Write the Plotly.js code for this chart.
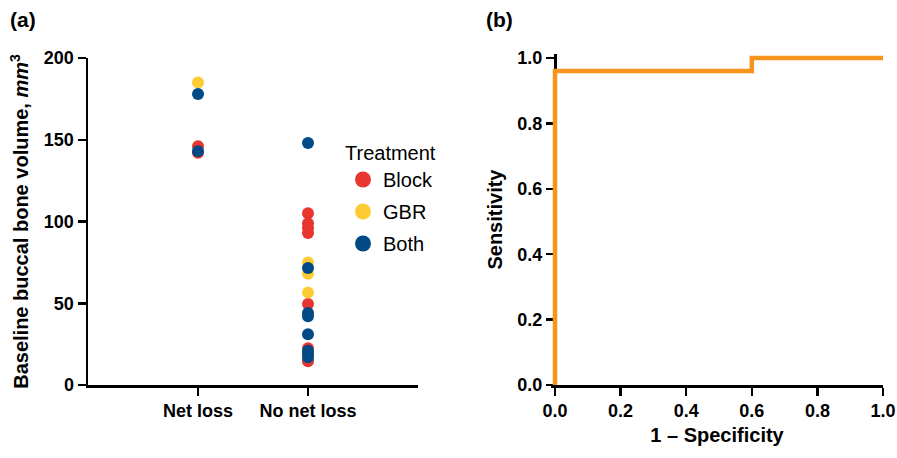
<!DOCTYPE html>
<html><head><meta charset="utf-8">
<script src="https://cdn.plot.ly/plotly-3.0.1.min.js"></script>
<style>body{margin:0;padding:0;background:#fff}#chart{width:897px;height:458px}</style>
</head><body><div id="chart"></div>
<script>
// Panel (a) data
const categories = ["Net loss", "No net loss"];
const blockX = ["Net loss","Net loss","No net loss","No net loss","No net loss","No net loss","No net loss","No net loss","No net loss"];
const blockY = [146, 142, 105, 99, 96, 93, 49.5, 22.5, 14.5];
const gbrX = ["Net loss","No net loss","No net loss","No net loss"];
const gbrY = [185, 75, 68, 56.5];
const bothX = ["Net loss","Net loss","No net loss","No net loss","No net loss","No net loss","No net loss","No net loss","No net loss","No net loss"];
const bothY = [178, 143, 148, 71.5, 44, 42, 31, 21, 19, 17];
const seriesNames = ["Block", "GBR", "Both"];
const colors = ["#E8352F", "#FDCB33", "#014A86"];

// Panel (b) ROC data
const fpr = [0, 0, 0.6, 0.6, 1.0];
const tpr = [0, 0.96, 0.96, 1.0, 1.0];

const yTicksA = [0, 50, 100, 150, 200];
const ticksB = [0, 0.2, 0.4, 0.6, 0.8, 1.0];

const F = "Arial, 'Liberation Sans', sans-serif";
const xs = [blockX, gbrX, bothX], ys = [blockY, gbrY, bothY];
const traces = [];
for (let i = 0; i < 3; i++) {
  traces.push({type:"scatter", mode:"markers", x:xs[i], y:ys[i], xaxis:"x", yaxis:"y",
    marker:{color:colors[i], size:12}, showlegend:false, cliponaxis:false});
}
for (let i = 0; i < 3; i++) {
  traces.push({type:"scatter", mode:"markers", x:[null], y:[null], xaxis:"x", yaxis:"y",
    name:seriesNames[i], legendgroup:"g"+i, marker:{color:colors[i], size:20}, showlegend:true});
}
traces.push({type:"scatter", mode:"lines", x:fpr, y:tpr, xaxis:"x2", yaxis:"y2",
  line:{color:"#F7941D", width:4.5, shape:"linear"}, showlegend:false, cliponaxis:false});

const axCommon = {showline:true, linecolor:"#000", linewidth:2.5, ticks:"outside", ticklen:8,
  tickwidth:2.5, tickcolor:"#000", showgrid:false, zeroline:false, automargin:false,
  layer:"below traces",
  tickfont:{family:F, size:18, color:"#000", weight:"bold"}};
const titleFont = {family:F, size:20, color:"#000", weight:"bold"};

// small padding so the thick ROC line is not clipped at the edges
const padX = 0.012, padY = 0.012, pxPerUnitX = 328, pxPerUnitY = 327;

const layout = {
  width:897, height:458, margin:{l:0, r:0, t:0, b:0},
  paper_bgcolor:"#fff", plot_bgcolor:"#fff",
  font:{family:F, color:"#000"},
  xaxis: Object.assign({}, axCommon, {domain:[88/897, 418/897], type:"category",
    categoryarray:categories, range:[-1, 2]}),
  yaxis: Object.assign({}, axCommon, {domain:[1-385/458, 1-58/458], range:[0, 200],
    tickvals:yTicksA, title:{text:"<b>Baseline buccal bone volume, <i>mm</i><sup>3</sup></b>",
    font:titleFont, standoff:10}}),
  xaxis2: Object.assign({}, axCommon, {domain:[(555-padX*pxPerUnitX)/897, 883/897], range:[-padX, 1], anchor:"y2",
    tickvals:ticksB, tickformat:".1f",
    title:{text:"<b>1 – Specificity</b>", font:titleFont, standoff:8}}),
  yaxis2: Object.assign({}, axCommon, {domain:[1-385/458, 1-(58-padY*pxPerUnitY)/458], range:[0, 1+padY],
    anchor:"free", position:555/897, overlaying:false,
    tickvals:ticksB, tickformat:".1f",
    title:{text:"<b>Sensitivity</b>", font:titleFont, standoff:8}}),
  showlegend:true,
  legend:{x:343/897, y:1-134/458, xanchor:"left", yanchor:"top", bgcolor:"rgba(0,0,0,0)",
    font:{family:F, size:20, color:"#000"}, itemsizing:"trace", tracegroupgap:3,
    title:{text:"Treatment", font:{family:F, size:20, color:"#000"}}},
  annotations:[
    {text:"<b>(a)</b>", x:8/897, y:1-6/458, xref:"paper", yref:"paper", xanchor:"left", yanchor:"top",
      showarrow:false, font:{family:F, size:21, color:"#000"}},
    {text:"<b>(b)</b>", x:484/897, y:1-6/458, xref:"paper", yref:"paper", xanchor:"left", yanchor:"top",
      showarrow:false, font:{family:F, size:21, color:"#000"}}
  ]
};
Plotly.newPlot("chart", traces, layout, {displayModeBar:false, staticPlot:true});
</script></body></html>
